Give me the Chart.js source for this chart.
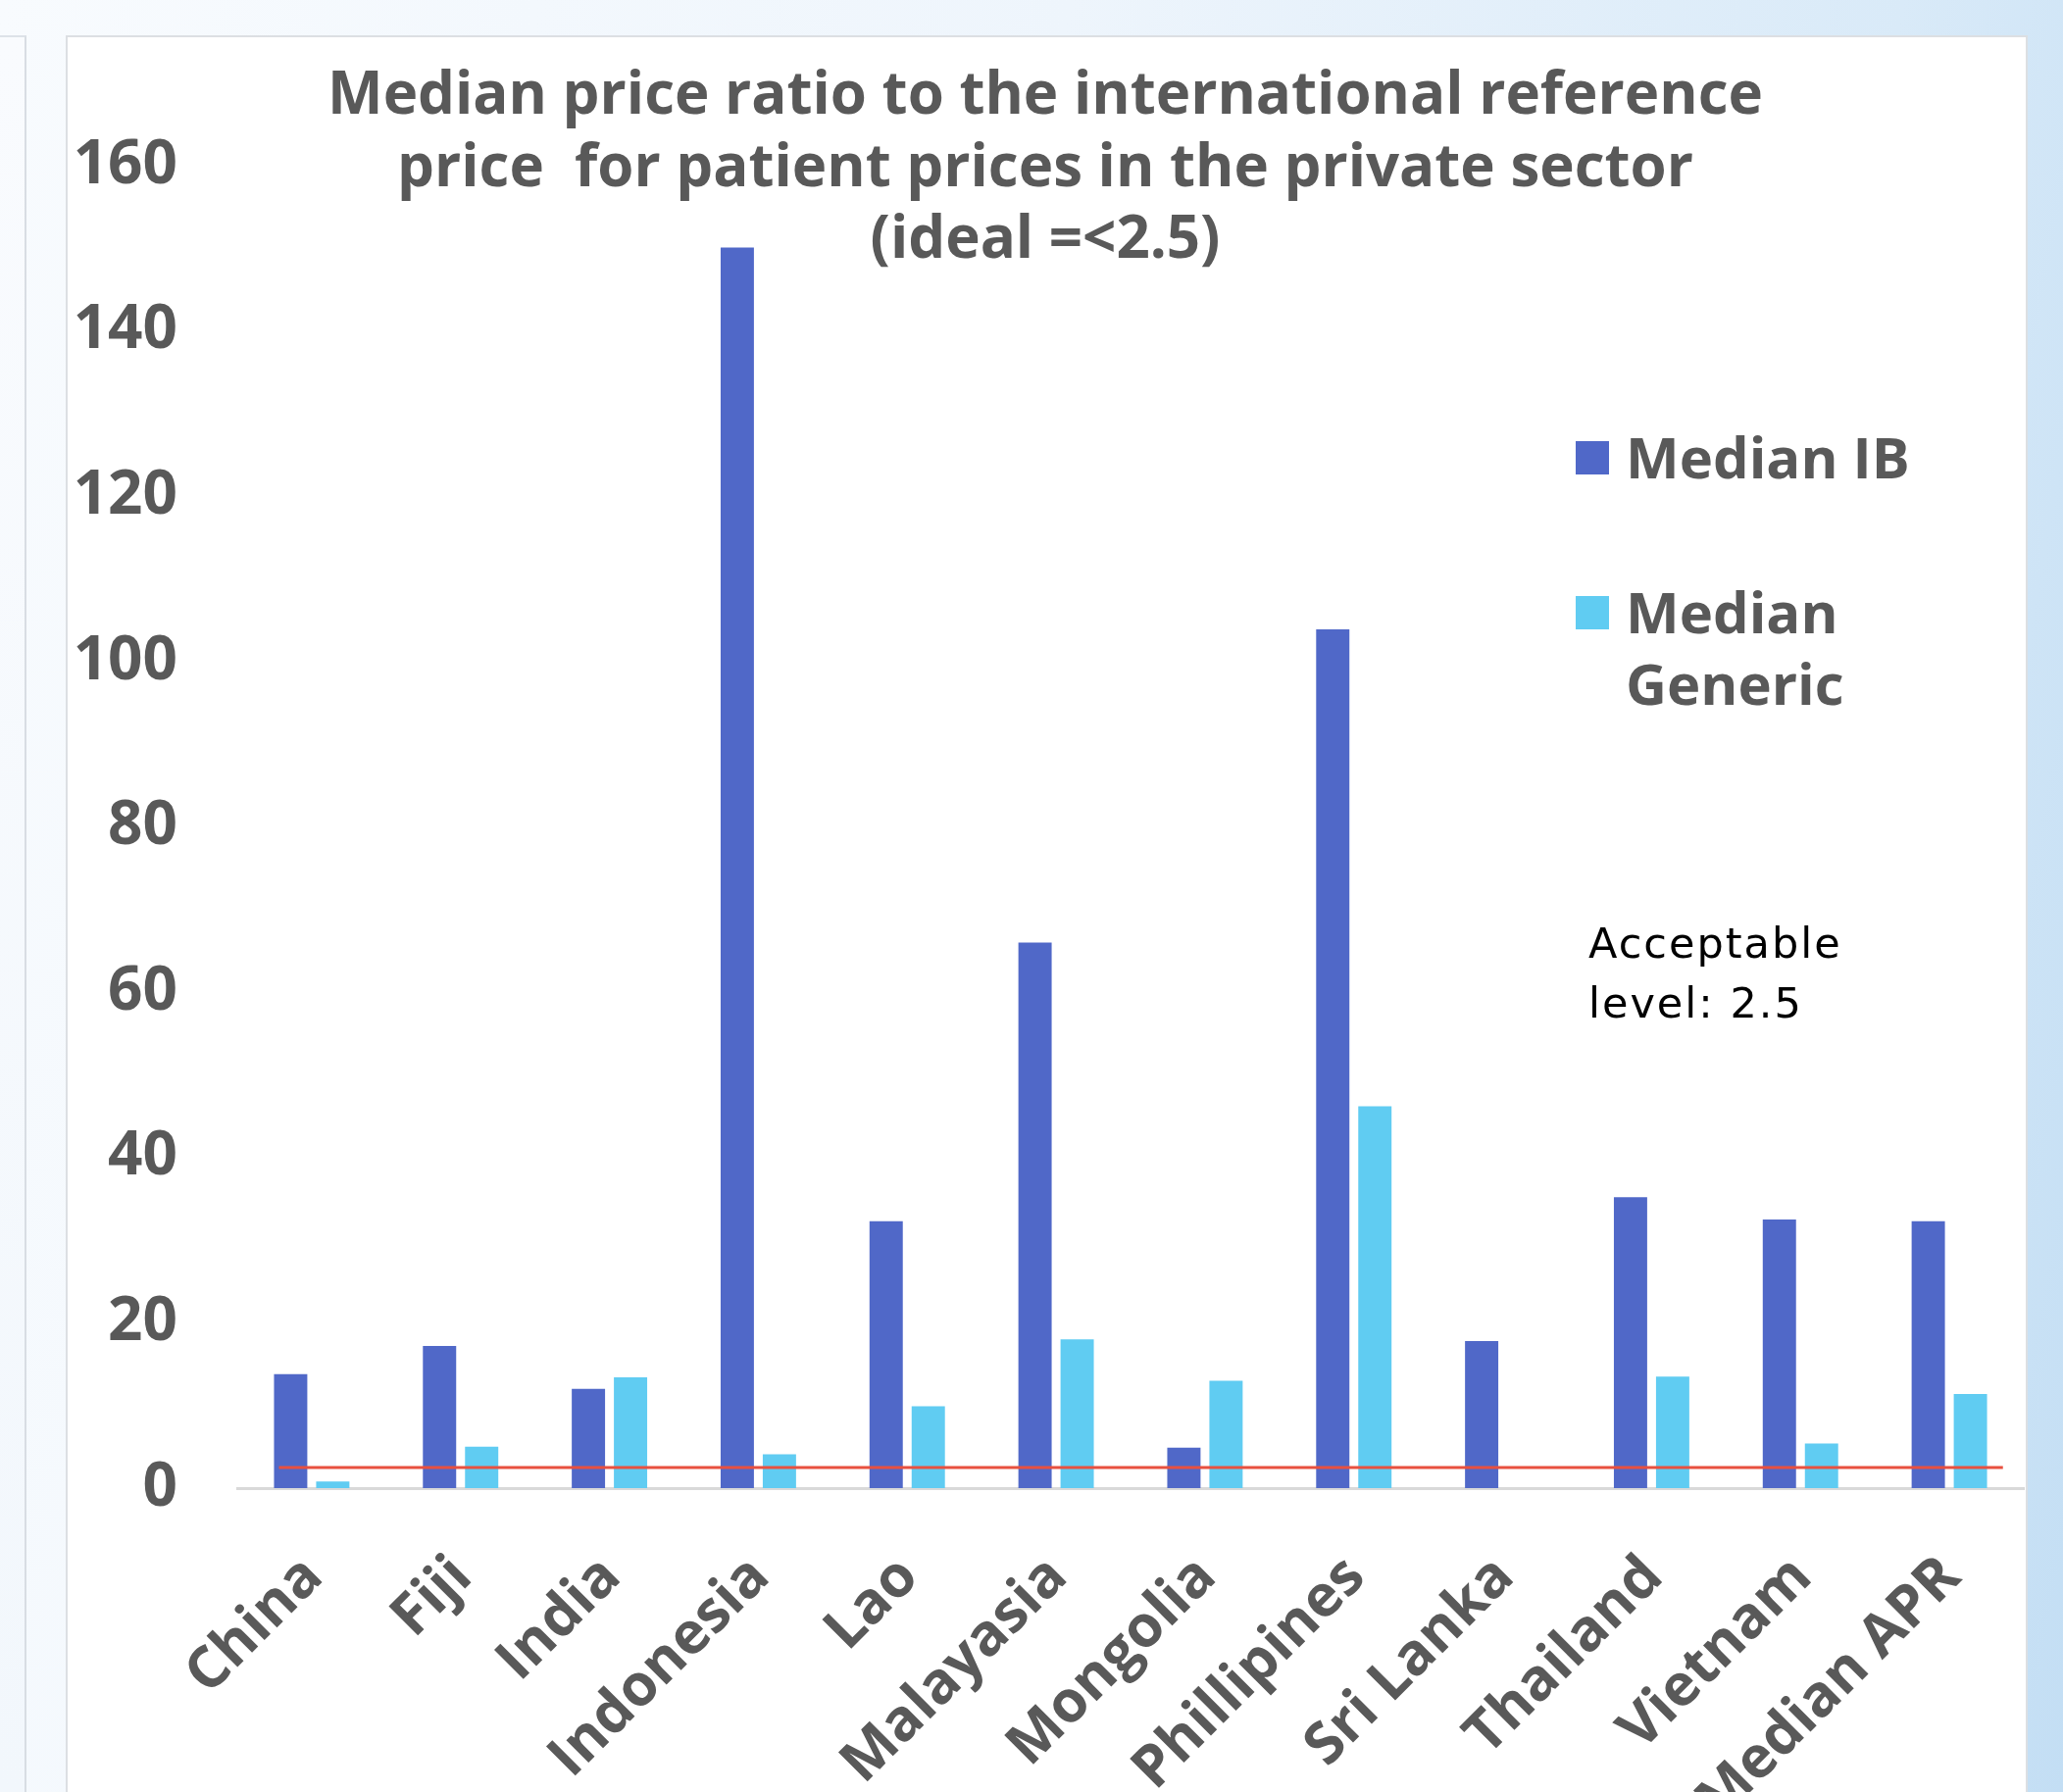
<!DOCTYPE html>
<html>
<head>
<meta charset="utf-8">
<title>Median price ratio to the international reference price</title>
<script src="https://cdn.jsdelivr.net/npm/chart.js@4.4.1/dist/chart.umd.min.js"></script>
<style>
  html, body { margin: 0; padding: 0; width: 2104px; height: 1828px; overflow: hidden; }
  body {
    position: relative;
    background: linear-gradient(100deg, #f8fbfe 0%, #eef5fc 45%, #d9eaf8 80%, #c3def4 100%);
  }
  #sidePanel {
    position: absolute; left: 0; top: 36px; width: 25px; bottom: 0;
    background: linear-gradient(#f9fbfe, #f2f7fc);
    border-right: 2px solid #d8dde3; border-top: 2px solid #dde2e8;
  }
  #panel {
    position: absolute; left: 67px; top: 36px; width: 1997px; bottom: -10px;
    background: #fff;
    border-left: 2px solid #dcdfe3; border-top: 2px solid #dcdfe3; border-right: 2px solid #dcdfe3;
  }
  #wrap { position: absolute; left: 0; top: 0; width: 2104px; height: 1828px; }
</style>
</head>
<body>
<div id="sidePanel"></div>
<div id="panel"></div>
<div id="wrap"><canvas id="chart"></canvas></div>
<script>
// data
const categories = ['China', 'Fiji', 'India', 'Indonesia', 'Lao', 'Malayasia', 'Mongolia',
  'Phillipines', 'Sri Lanka', 'Thailand', 'Vietnam', 'Median APR'];
const medianIB = [13.8, 17.2, 12.0, 150.1, 32.3, 66.0, 4.9, 103.9, 17.8, 35.2, 32.5, 32.3];
const medianGeneric = [0.8, 5.0, 13.4, 4.1, 9.9, 18.0, 13.0, 46.2, null, 13.5, 5.4, 11.4];
const yMin = 0;
const yMax = 160;
const yStep = 20;
const acceptableLevel = 2.5;
const titleLines = ['Median price ratio to the international reference',
  'price  for patient prices in the private sector', '(ideal =<2.5)'];
const noteLines = ['Acceptable', 'level: 2.5'];

const grey = '#595959';

// title drawn over the plot, like the original slide
const titlePlugin = {
  id: 'slideTitle',
  afterDraw(chart) {
    const ctx = chart.ctx;
    ctx.save();
    ctx.font = 'bold 60px "Open Sans"';
    ctx.fillStyle = grey;
    ctx.textAlign = 'center';
    ctx.textBaseline = 'alphabetic';
    titleLines.forEach((t, i) => ctx.fillText(t, 1066, 116 + i * 73.5));
    ctx.restore();
  }
};

// the 2.5 reference line
const acceptableLine = {
  id: 'acceptableLine',
  afterDatasetsDraw(chart) {
    const { ctx, scales: { x, y } } = chart;
    const step = x.getPixelForValue(1) - x.getPixelForValue(0);
    const yPix = y.getPixelForValue(acceptableLevel);
    ctx.save();
    ctx.strokeStyle = '#e8503f';
    ctx.lineWidth = 3;
    ctx.beginPath();
    ctx.moveTo(x.getPixelForValue(0) - step * 0.22, yPix);
    ctx.lineTo(x.getPixelForValue(categories.length - 1) + step * 0.36, yPix);
    ctx.stroke();
    ctx.restore();
  }
};

// legend + note on the right
const sideLegend = {
  id: 'sideLegend',
  afterDraw(chart) {
    const ctx = chart.ctx;
    ctx.save();
    ctx.font = 'bold 58px "Open Sans"';
    ctx.textBaseline = 'alphabetic';
    let top = 450;
    chart.data.datasets.forEach(ds => {
      // wrap label if too wide
      const words = ds.label.split(' ');
      const lines = [];
      let cur = '';
      words.forEach(w => {
        const test = cur ? cur + ' ' + w : w;
        if (ctx.measureText(test).width > 320 && cur) { lines.push(cur); cur = w; } else cur = test;
      });
      lines.push(cur);
      ctx.fillStyle = ds.backgroundColor;
      ctx.fillRect(1607, top, 34, 34);
      ctx.fillStyle = grey;
      lines.forEach((l, i) => ctx.fillText(l, 1658, top + 38 + i * 73));
      top += 158;
    });

    ctx.font = '43px "DejaVu Sans"';
    ctx.letterSpacing = '2px';
    ctx.fillStyle = '#000';
    noteLines.forEach((l, i) => ctx.fillText(l, 1620, 977 + i * 61));
    ctx.restore();
  }
};

function draw() {
  const ctx = document.getElementById('chart').getContext('2d');
  new Chart(ctx, {
    type: 'bar',
    data: {
      labels: categories,
      datasets: [
        { label: 'Median IB', data: medianIB, backgroundColor: '#5068c8' },
        { label: 'Median Generic', data: medianGeneric, backgroundColor: '#60ccf2' }
      ]
    },
    options: {
      responsive: true,
      maintainAspectRatio: false,
      animation: false,
      categoryPercentage: 0.566,
      barPercentage: 0.79,
      layout: { padding: { top: 169, right: 40, left: 0, bottom: 0 } },
      plugins: {
        legend: { display: false },
        title: { display: false },
        tooltip: { enabled: false }
      },
      scales: {
        x: {
          grid: { display: false, drawTicks: false },
          border: { display: true, color: '#d9d9d9', width: 3 },
          ticks: {
            color: grey,
            font: { family: 'Open Sans', weight: 'bold', size: 59 },
            minRotation: 45,
            maxRotation: 45,
            autoSkip: false,
            padding: 56,
            labelOffset: 2
          },
          afterFit(scale) { scale.height = 310; }
        },
        y: {
          min: yMin,
          max: yMax,
          grid: { display: false, drawTicks: false },
          border: { display: false },
          ticks: {
            stepSize: yStep,
            color: grey,
            font: { family: 'Open Sans', weight: 'bold', size: 62 },
            padding: 61
          },
          afterFit(scale) { scale.width = 242; }
        }
      }
    },
    plugins: [acceptableLine, titlePlugin, sideLegend]
  });
}

Promise.all([
  document.fonts.load('bold 60px "Open Sans"'),
  document.fonts.load('43px "DejaVu Sans"')
]).then(draw, draw);
</script>
</body>
</html>
